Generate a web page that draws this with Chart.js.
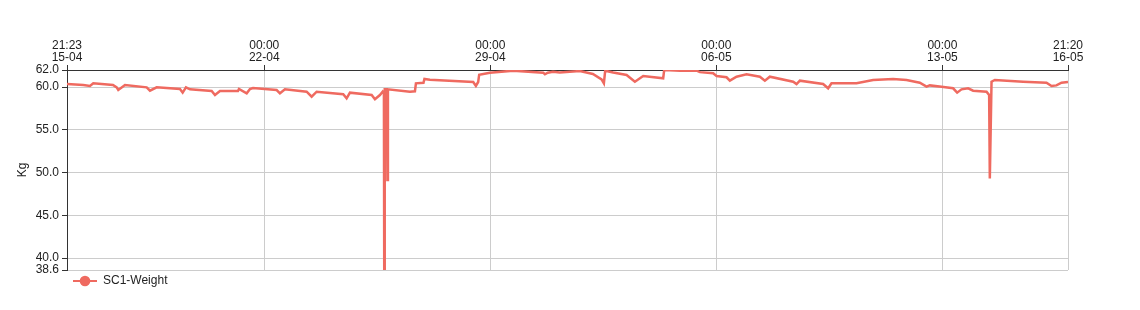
<!DOCTYPE html>
<html>
<head>
<meta charset="utf-8">
<title>SC1-Weight</title>
<script src="https://cdn.jsdelivr.net/npm/chart.js@4"></script>
<style>
  html, body { margin: 0; padding: 0; background: #fff; }
  #wrap { width: 1140px; height: 310px; }
</style>
</head>
<body>
<div id="wrap"><canvas id="weight-chart" width="1140" height="310"></canvas></div>
<script>
// time in days since 15-04 00:00
const timeDays = [
  0.891, 1.396, 1.603, 1.705, 2.315, 2.430, 2.479, 2.687, 3.358, 3.461,
  3.668, 4.389, 4.473, 4.575, 4.699, 5.371, 5.473, 5.628, 6.185, 6.216,
  6.455, 6.557, 6.650, 7.383, 7.485, 7.640, 8.312, 8.467, 8.622, 9.445,
  9.550, 9.653, 10.325, 10.427, 10.581, 10.665, 10.705, 10.715, 10.730, 10.798,
  10.813, 10.829, 11.510, 11.665, 11.696, 11.930, 11.960, 12.129, 13.470, 13.553,
  13.624, 13.655, 13.987, 14.708, 15.637, 15.690, 15.780, 15.940, 16.150, 16.773,
  17.176, 17.445, 17.517, 17.557, 17.805, 18.220, 18.477, 18.734, 19.353, 19.384,
  19.870, 20.387, 20.490, 20.900, 21.006, 21.315, 21.418, 21.625, 21.935, 22.347,
  22.502, 22.656, 23.378, 23.483, 23.585, 24.306, 24.461, 24.566, 25.340, 25.854,
  26.473, 26.888, 27.300, 27.508, 27.610, 27.973, 28.332, 28.456, 28.592, 28.797,
  28.951, 29.366, 29.447, 29.468, 29.521, 29.623, 30.499, 31.223, 31.378, 31.530,
  31.688, 31.889
];
const weights = [
  60.36, 60.25, 60.13, 60.44, 60.25, 59.97, 59.66, 60.25, 59.97, 59.58,
  59.97, 59.78, 59.35, 59.97, 59.74, 59.54, 59.07, 59.54, 59.54, 59.78,
  59.27, 59.78, 59.90, 59.66, 59.27, 59.74, 59.46, 58.88, 59.46, 59.16,
  58.69, 59.35, 59.07, 58.57, 59.07, 59.46, 59.20, 38.60, 59.74, 59.74,
  49.13, 59.74, 59.46, 59.50, 60.44, 60.50, 60.95, 60.85, 60.60, 60.13,
  60.60, 61.45, 61.69, 61.92, 61.69, 61.50, 61.69, 61.80, 61.70, 61.88,
  61.53, 60.91, 60.44, 61.92, 61.70, 61.42, 60.63, 61.30, 61.03, 62.00,
  61.92, 61.92, 61.75, 61.61, 61.30, 61.15, 60.75, 61.22, 61.50, 61.22,
  60.75, 61.22, 60.63, 60.36, 60.75, 60.36, 59.86, 60.44, 60.44, 60.83,
  60.95, 60.83, 60.52, 60.05, 60.20, 60.05, 59.86, 59.35, 59.74, 59.86,
  59.58, 59.46, 59.07, 49.30, 60.63, 60.83, 60.63, 60.52, 60.13, 60.20,
  60.52, 60.60
];

const xTickValues = [0.891, 7, 14, 21, 28, 31.889];
const xTickTimes = ['21:23', '00:00', '00:00', '00:00', '00:00', '21:20'];
const xTickDates = ['15-04', '22-04', '29-04', '06-05', '13-05', '16-05'];
const yTickValues = [38.6, 40, 45, 50, 55, 60, 62];

const seriesLabel = 'SC1-Weight';
const lineColor = '#ef6a60';
const textColor = '#222';
const fontFamily = '"Liberation Sans", Arial, Helvetica, sans-serif';

// simple legend: line with a dot, then the label
const legendPlugin = {
    id: 'lineLegend',
    afterDraw(chart) {
        const ctx = chart.ctx;
        const y = 281;
        ctx.save();
        ctx.strokeStyle = lineColor;
        ctx.lineWidth = 2;
        ctx.beginPath();
        ctx.moveTo(73, y);
        ctx.lineTo(97, y);
        ctx.stroke();
        ctx.fillStyle = lineColor;
        ctx.beginPath();
        ctx.arc(85, y, 5.3, 0, Math.PI * 2);
        ctx.fill();
        ctx.fillStyle = textColor;
        ctx.font = '12px ' + fontFamily;
        ctx.textBaseline = 'middle';
        ctx.fillText(seriesLabel, 103, y);
        ctx.restore();
    }
};

const ctx = document.getElementById('weight-chart').getContext('2d');

new Chart(ctx, {
    type: 'line',
    data: {
        datasets: [{
            label: seriesLabel,
            data: timeDays.map((d, i) => ({ x: d, y: weights[i] })),
            borderColor: lineColor,
            backgroundColor: lineColor,
            borderWidth: 2.5,
            pointRadius: 0,
            tension: 0
        }]
    },
    options: {
        responsive: false,
        animation: false,
        layout: { padding: { left: 0, right: 72, top: 0, bottom: 40 } },
        plugins: {
            legend: { display: false },
            tooltip: { enabled: false }
        },
        scales: {
            x: {
                type: 'linear',
                position: 'top',
                min: xTickValues[0],
                max: xTickValues[xTickValues.length - 1],
                afterBuildTicks: (scale) => { scale.ticks = xTickValues.map(v => ({ value: v })); },
                afterFit: (scale) => { scale.height = 70; },
                ticks: {
                    autoSkip: false,
                    maxRotation: 0,
                    padding: 1,
                    color: textColor,
                    font: { family: fontFamily, size: 12, lineHeight: 1 },
                    callback: (value) => {
                        const i = xTickValues.indexOf(value);
                        return i < 0 ? '' : [xTickTimes[i], xTickDates[i]];
                    }
                },
                grid: { color: '#cccccc', tickColor: '#333', tickLength: 5, lineWidth: 1 },
                border: { color: '#333', width: 1 }
            },
            y: {
                type: 'linear',
                min: yTickValues[0],
                max: yTickValues[yTickValues.length - 1],
                afterBuildTicks: (scale) => { scale.ticks = yTickValues.map(v => ({ value: v })); },
                afterFit: (scale) => { scale.width = 67; },
                title: {
                    display: true,
                    text: 'Kg',
                    color: textColor,
                    padding: { top: 15, bottom: 0 },
                    font: { family: fontFamily, size: 12 }
                },
                ticks: {
                    autoSkip: false,
                    padding: 3,
                    color: textColor,
                    font: { family: fontFamily, size: 12 },
                    callback: (value) => Number(value).toFixed(1)
                },
                grid: { color: '#cccccc', tickColor: '#333', tickLength: 5, lineWidth: 1 },
                border: { color: '#333', width: 1 }
            }
        }
    },
    plugins: [legendPlugin]
});
</script>
</body>
</html>
